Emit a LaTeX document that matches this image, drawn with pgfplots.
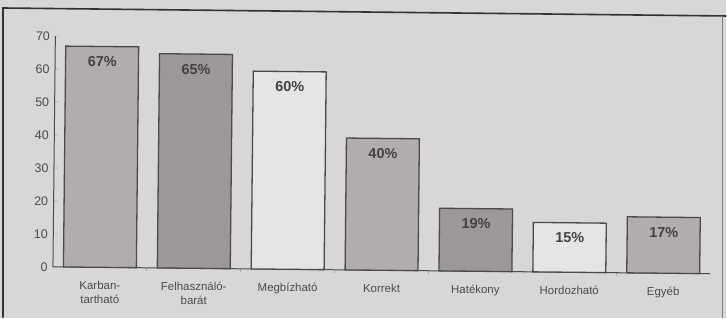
\documentclass[border=0pt]{standalone}
\usepackage{fontspec}
\setmainfont{Liberation Sans}
\usepackage{pgfplots}
\pgfplotsset{compat=1.18}
\definecolor{bg}{HTML}{D8D6D6}
\definecolor{cA}{HTML}{B1ADAF}
\definecolor{cB}{HTML}{9C9898}
\definecolor{cW}{HTML}{E6E5E5}
\definecolor{edge}{HTML}{4A4A4A}
\definecolor{txt}{HTML}{424146}
\begin{document}
\begin{tikzpicture}[x=1bp,y=1bp]
\fill[bg] (0,0) rectangle (727,318);
\draw[line width=1.6bp, black!80] (3,0) -- (3,310) -- (727,302);
\draw[line width=0.8bp, black!50] (723,0) -- (723,302);
\begin{axis}[
  at={(53bp,44bp)}, anchor=south west,
  rotate around={-0.6:(axis cs:-0.5,0)},
  scale only axis, width=658bp, height=231bp,
  xmin=-0.5, xmax=6.5, ymin=0, ymax=70,
  axis x line*=bottom, axis y line*=left,
  axis line style={-, line width=1bp, draw=black!70},
  ytick={0,10,...,70},
  xtick={0,...,6},
  xticklabels={{Karban-\\tartható},{Felhasználó-\\barát},Megbízható,Korrekt,Hatékony,Hordozható,Egyéb},
  minor xtick={0.5,1.5,...,5.5},
  major x tick style={draw=none},
  minor x tick style={draw=black!70},
  minor tick length=3bp,
  major tick length=4bp,
  tick align=inside,
  y tick style={draw=black!70},
  xticklabel style={align=center, font=\fontsize{11.5}{14}\selectfont, text=black!70, yshift=-6bp},
  yticklabel style={font=\fontsize{12.5}{14}\selectfont, text=black!70, xshift=-2bp},
  /pgf/number format/assume math mode=true,
  ybar, bar width=73bp, bar shift=0pt,
  every axis plot/.append style={draw=edge, line width=1.3bp},
  nodes near coords={\pgfmathprintnumber{\pgfplotspointmeta}\%},
  nodes near coords style={anchor=north, yshift=-6bp, font=\bfseries\fontsize{14.5}{16}\selectfont, text=txt},
  clip=false,
]
\addplot[fill=cA] coordinates {(0,67)};
\addplot[fill=cB] coordinates {(1,65)};
\addplot[fill=cW] coordinates {(2,60)};
\addplot[fill=cA] coordinates {(3,40)};
\addplot[fill=cB] coordinates {(4,19)};
\addplot[fill=cW] coordinates {(5,15)};
\addplot[fill=cA] coordinates {(6,17)};
\end{axis}
\end{tikzpicture}
\end{document}
